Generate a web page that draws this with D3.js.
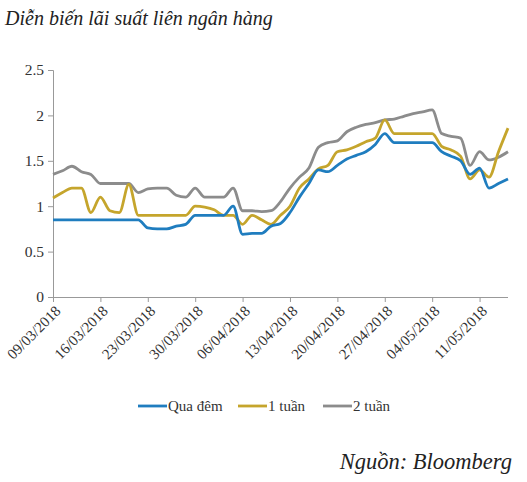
<!DOCTYPE html>
<html>
<head>
<meta charset="utf-8">
<script src="https://cdn.jsdelivr.net/npm/d3@7"></script>
<style>
  body { margin: 0; background: #fff; }
  svg { display: block; }
</style>
</head>
<body>
<svg id="chart" width="527" height="482"></svg>
<script>
// interbank rates, business days 09/03/2018 - 16/05/2018
const dates = [
  "09/03/2018","12/03/2018","13/03/2018","14/03/2018","15/03/2018","16/03/2018",
  "19/03/2018","20/03/2018","21/03/2018","22/03/2018","23/03/2018",
  "26/03/2018","27/03/2018","28/03/2018","29/03/2018","30/03/2018",
  "02/04/2018","03/04/2018","04/04/2018","05/04/2018","06/04/2018",
  "09/04/2018","10/04/2018","11/04/2018","12/04/2018","13/04/2018",
  "16/04/2018","17/04/2018","18/04/2018","19/04/2018","20/04/2018",
  "23/04/2018","24/04/2018","25/04/2018","26/04/2018","27/04/2018",
  "30/04/2018","01/05/2018","02/05/2018","03/05/2018","04/05/2018",
  "07/05/2018","08/05/2018","09/05/2018","10/05/2018","11/05/2018",
  "14/05/2018","15/05/2018","16/05/2018"
];

const quaDem = [0.85,0.85,0.85,0.85,0.85,0.85,0.85,0.85,0.85,0.85,0.76,0.75,0.75,0.78,0.8,0.9,0.9,0.9,0.9,1.0,
  0.69,0.7,0.7,0.78,0.81,0.93,1.1,1.25,1.4,1.38,1.45,1.52,1.56,1.6,1.68,1.8,1.7,1.7,1.7,1.7,1.7,
  1.6,1.55,1.5,1.35,1.42,1.2,1.25,1.3];
const motTuan = [1.09,1.15,1.2,1.2,0.93,1.1,0.95,0.93,1.24,0.9,0.9,0.9,0.9,0.9,0.9,1.0,0.99,0.96,0.9,0.9,
  0.8,0.9,0.85,0.8,0.9,1.0,1.2,1.3,1.41,1.45,1.6,1.62,1.66,1.71,1.75,1.95,1.8,1.8,1.8,1.8,1.8,
  1.66,1.62,1.55,1.3,1.4,1.32,1.6,1.86];
const haiTuan = [1.35,1.39,1.44,1.38,1.35,1.25,1.25,1.25,1.25,1.15,1.19,1.2,1.2,1.12,1.1,1.2,1.1,1.1,1.1,1.2,
  0.95,0.95,0.94,0.95,1.05,1.2,1.32,1.42,1.65,1.7,1.72,1.82,1.87,1.9,1.92,1.95,1.96,1.99,2.02,2.04,2.06,
  1.8,1.77,1.75,1.45,1.6,1.51,1.54,1.6];

const seriesNames = ["Qua đêm", "1 tuần", "2 tuần"];
const seriesColors = ["#1f7dbf", "#c5a52c", "#8c8c8c"];
const yTicks = [0, 0.5, 1, 1.5, 2, 2.5];
const labelEvery = 5;

const svg = d3.select("#chart");
const serif = "'Liberation Serif', 'DejaVu Serif', serif";

const plotLeft = 53, plotRight = 508, plotTop = 70, plotBottom = 297;

const x = d3.scalePoint().domain(dates).range([plotLeft, plotRight]);
const y = d3.scaleLinear().domain([0, 2.5]).range([plotBottom, plotTop]);

// title
svg.append("text")
  .attr("x", 5).attr("y", 25)
  .style("font-family", serif).style("font-style", "italic")
  .style("font-size", "20px").attr("fill", "#222")
  .text("Diễn biến lãi suất liên ngân hàng");

// y axis
const yAxis = svg.append("g")
  .attr("transform", `translate(${plotLeft},0)`)
  .call(d3.axisLeft(y).tickValues(yTicks).tickSize(5).tickFormat(d3.format("")));
yAxis.select(".domain").attr("stroke", "#999");
yAxis.selectAll(".tick line").attr("stroke", "#999");
yAxis.selectAll(".tick text")
  .style("font-family", serif).style("font-size", "15.5px").attr("fill", "#333")
  .attr("x", -9);

// x axis
const xAxis = svg.append("g")
  .attr("transform", `translate(0,${plotBottom})`)
  .call(d3.axisBottom(x)
    .tickValues(dates.filter((d, i) => i % labelEvery === 0))
    .tickSize(5).tickSizeOuter(0));
xAxis.select(".domain").attr("stroke", "#999").attr("d", `M${plotLeft},0.5H${plotRight}`);
xAxis.selectAll(".tick line").attr("stroke", "#999");
xAxis.selectAll(".tick text")
  .style("font-family", serif).style("font-size", "15px").attr("fill", "#333")
  .attr("text-anchor", "end")
  .attr("dy", null).attr("y", null)
  .attr("transform", "translate(8,15) rotate(-45)");

// lines
const allSeries = [quaDem, motTuan, haiTuan];
const line = d3.line()
  .x((d, i) => x(dates[i]))
  .y(d => y(d))
  .curve(d3.curveMonotoneX);

[2, 1, 0].forEach(k => {
  svg.append("path")
    .datum(allSeries[k])
    .attr("d", line)
    .attr("fill", "none")
    .attr("stroke", seriesColors[k])
    .attr("stroke-width", 2.8)
    .attr("stroke-linejoin", "round");
});

// legend
const legendX = [138, 238, 323];
seriesNames.forEach((name, k) => {
  const g = svg.append("g").attr("transform", `translate(${legendX[k]},406)`);
  g.append("line").attr("x1", 0).attr("x2", 29).attr("y1", 0).attr("y2", 0)
    .attr("stroke", seriesColors[k]).attr("stroke-width", 2.8);
  g.append("text").attr("x", 30).attr("y", 5)
    .style("font-family", serif).style("font-size", "15px").attr("fill", "#333")
    .text(name);
});

// source
svg.append("text")
  .attr("x", 512).attr("y", 469)
  .attr("text-anchor", "end")
  .style("font-family", serif).style("font-style", "italic")
  .style("font-size", "22.5px").attr("fill", "#222")
  .text("Nguồn: Bloomberg");
</script>
</body>
</html>
